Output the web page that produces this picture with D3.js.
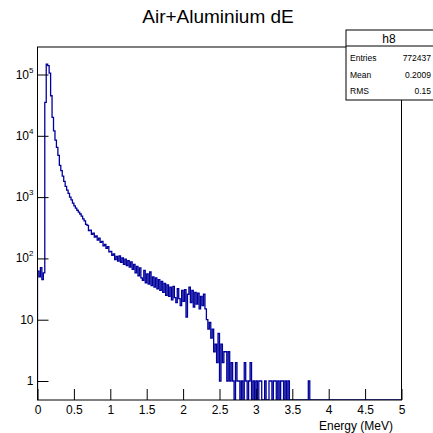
<!DOCTYPE html>
<html>
<head>
<meta charset="utf-8">
<script src="https://cdn.jsdelivr.net/npm/d3@7"></script>
<style>
body { margin: 0; background: #fff; }
text { font-family: "Liberation Sans", Arial, Helvetica, sans-serif; fill: #000; }
</style>
</head>
<body>
<svg id="chart" width="433" height="433"></svg>
<script>
// histogram h8 : 250 bins from 0 to 5 MeV
var binWidth = 0.02;
var counts = [
    62, 50, 71, 45, 58, 35000, 148000, 140000, 105000, 45000,
    20000, 12000, 8500, 6500, 4800, 3300, 2700, 2200, 1800, 1500,
    1300, 1150, 1000, 900, 800, 720, 660, 610, 570, 530,
    490, 440, 410, 360, 345, 285, 290, 248, 258, 222,
    232, 198, 214, 182, 190, 160, 170, 146, 156, 128,
    130, 112, 118, 96, 108, 90, 110, 86, 102, 80,
    97, 76, 92, 72, 88, 66, 80, 58, 74, 52,
    70, 48, 44, 64, 40, 56, 38, 60, 36, 50,
    34, 48, 32, 45, 30, 42, 28, 39, 25, 37,
    24, 34, 21, 35, 23, 19, 32, 22, 17, 30,
    20, 31, 11, 26, 34, 19, 30, 16, 28, 18,
    27, 15, 24, 17, 26, 15, 10, 7, 9, 5,
    7, 3, 4, 2, 6, 1, 4, 2, 3, 3,
    1, 3, 1, 2, 1, 0, 2, 1, 1, 0,
    1, 0, 2, 1, 0, 1, 2, 0, 1, 0,
    1, 0, 1, 1, 0, 0, 1, 0, 0, 1,
    1, 0, 1, 1, 0, 1, 0, 1, 1, 0,
    1, 0, 1, 0, 0, 0, 0, 0, 0, 0,
    0, 0, 0, 0, 0, 0, 1, 0, 0, 0,
    0, 0, 0, 0, 0, 0, 0, 0, 0, 0,
    0, 0, 0, 0, 0, 0, 0, 0, 0, 0,
    0, 0, 0, 0, 0, 0, 0, 0, 0, 0,
    0, 0, 0, 0, 0, 0, 0, 0, 0, 0,
    0, 0, 0, 0, 0, 0, 0, 0, 0, 0,
    0, 0, 0, 0, 0, 0, 0, 0, 0, 0
];
var xMajor = [0, 0.5, 1, 1.5, 2, 2.5, 3, 3.5, 4, 4.5, 5];
var xLabels = ["0", "0.5", "1", "1.5", "2", "2.5", "3", "3.5", "4", "4.5", "5"];
var yDecades = [1, 10, 100, 1000, 10000, 100000];
var yBase = ["1", "10", "10", "10", "10", "10"];
var yPower = ["", "", "2", "3", "4", "5"];
var statNames = ["Entries", "Mean", "RMS"];
var statValues = ["772437", "0.2009", "0.15"];

var fx0 = 37.5, fx1 = 401.5, fy0 = 47, fy1 = 400;
var svg = d3.select('#chart');

var x = d3.scaleLinear().domain([0, 5]).range([fx0, fx1]);
var y = d3.scaleLog().domain([0.49, 281000]).range([fy1, fy0]);

// minor ticks
var xMinor = d3.range(0, 50).map(function(i) { return i / 10; }).filter(function(v) { return Math.round(v * 10) % 5 != 0; });
var yMinor = [];
[0.1, 1, 10, 100, 1000, 10000, 100000].forEach(function(d) {
    for (var k = 2; k <= 9; k++) {
        var v = d * k;
        if (v >= 0.49 && v <= 281000) yMinor.push(v);
    }
});

svg.append('clipPath').attr('id', 'frame')
   .append('rect').attr('x', fx0).attr('y', fy0).attr('width', fx1 - fx0).attr('height', fy1 - fy0);

// histogram outline
var pts = [{e: 0, v: 0}];
counts.forEach(function(c, i) { pts.push({e: i * binWidth, v: c}); });
pts.push({e: counts.length * binWidth, v: counts[counts.length - 1]});
var line = d3.line()
    .x(function(d) { return x(d.e); })
    .y(function(d) { return y(d.v > 0 ? d.v : 0.49); })
    .curve(d3.curveStepAfter);
svg.append('path')
   .attr('d', line(pts))
   .attr('clip-path', 'url(#frame)')
   .attr('fill', 'none')
   .attr('stroke', '#00009c')
   .attr('stroke-width', 1.3);

// frame
svg.append('rect')
   .attr('x', fx0).attr('y', fy0).attr('width', fx1 - fx0).attr('height', fy1 - fy0)
   .attr('fill', 'none').attr('stroke', '#000').attr('stroke-width', 1);

// x axis
var gx = svg.append('g').attr('transform', 'translate(0,' + fy1 + ')');
gx.call(d3.axisBottom(x).tickValues(xMinor).tickSize(-5).tickFormat(''));
gx.call(d3.axisBottom(x).tickValues(xMajor).tickSize(-11).tickPadding(4)
         .tickFormat(function(d, i) { return xLabels[i]; }));
gx.selectAll('.domain').remove();
gx.selectAll('text').attr('font-size', 12).attr('font-family', null).attr('y', 14).attr('dy', null);
gx.selectAll('line').attr('stroke', '#000');

// y axis
var gy = svg.append('g').attr('transform', 'translate(' + fx0 + ',0)');
gy.call(d3.axisLeft(y).tickValues(yMinor).tickSize(-6).tickFormat(''));
gy.call(d3.axisLeft(y).tickValues(yDecades).tickSize(-11).tickPadding(4).tickFormat(''));
gy.selectAll('.domain').remove();
gy.selectAll('line').attr('stroke', '#000');
var ylab = gy.selectAll('.ylab').data(yDecades).enter().append('text')
    .attr('class', 'ylab')
    .attr('x', -4)
    .attr('y', function(d) { return y(d) + 4; })
    .attr('text-anchor', 'end')
    .attr('font-size', 12);
ylab.append('tspan').text(function(d, i) { return yBase[i]; });
ylab.append('tspan').attr('font-size', 8).attr('dy', -6)
    .text(function(d, i) { return yPower[i]; });

// axis title
svg.append('text').attr('x', 393).attr('y', 430).attr('text-anchor', 'end')
   .attr('font-size', 12).text('Energy (MeV)');

// title
svg.append('text').attr('x', 218).attr('y', 23).attr('text-anchor', 'middle')
   .attr('font-size', 19).text('Air+Aluminium dE');

// stats box
var bx = 346, by = 30;
svg.append('rect').attr('x', bx).attr('y', by).attr('width', 100).attr('height', 70)
   .attr('fill', '#fff').attr('stroke', '#000').attr('stroke-width', 1);
svg.append('line').attr('x1', bx).attr('x2', 433).attr('y1', 46).attr('y2', 46)
   .attr('stroke', '#000');
svg.append('text').attr('x', 389).attr('y', 43).attr('text-anchor', 'middle')
   .attr('font-size', 12).text('h8');
statNames.forEach(function(n, i) {
    svg.append('text').attr('x', 350).attr('y', 61 + i * 16.5).attr('font-size', 8.5).text(n);
    svg.append('text').attr('x', 431).attr('y', 61 + i * 16.5).attr('text-anchor', 'end')
       .attr('font-size', 8.5).text(statValues[i]);
});
</script>
</body>
</html>
